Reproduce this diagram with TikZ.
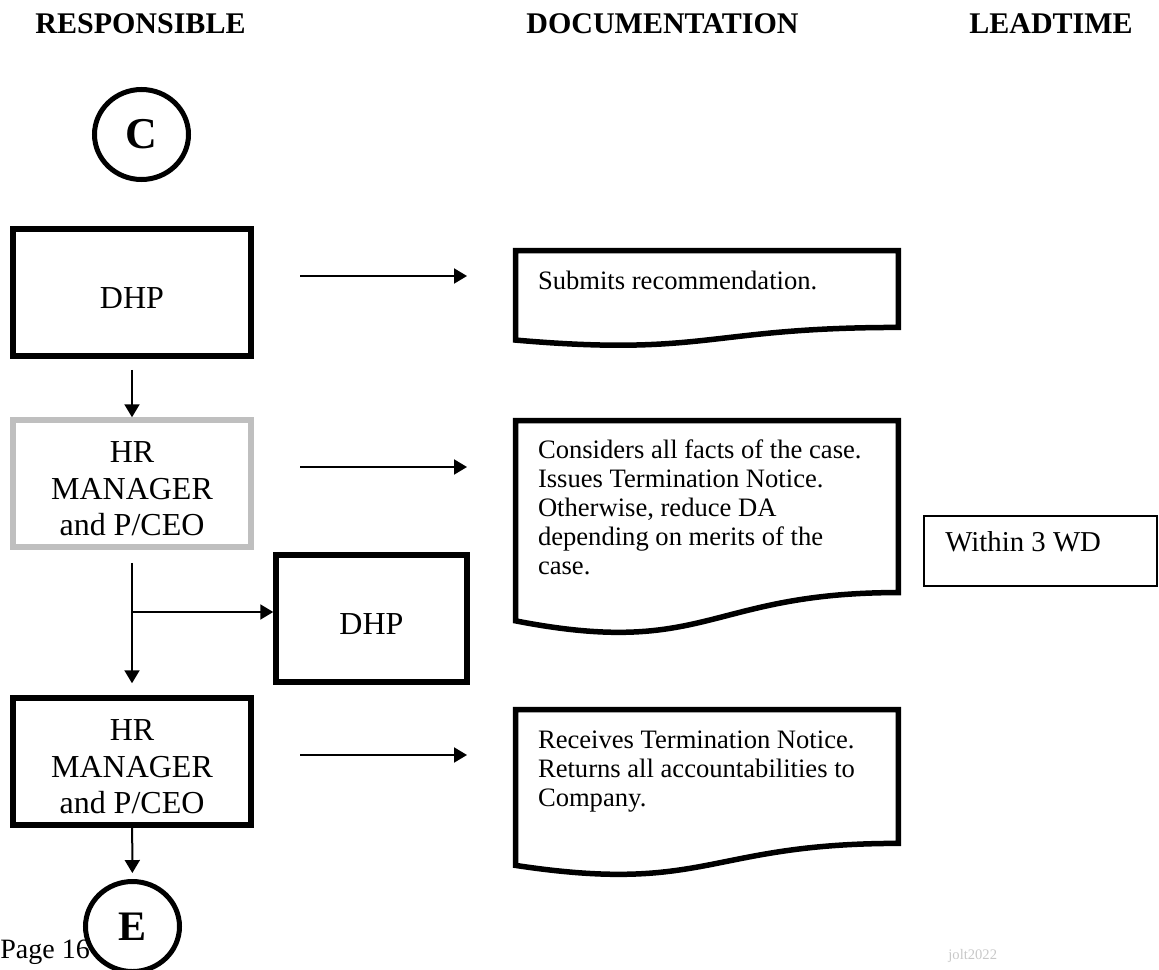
\documentclass[tikz,border=0pt]{standalone}
\usepackage{fontspec}
\setmainfont{Liberation Serif}
\usetikzlibrary{arrows.meta,shapes.geometric,calc}
\definecolor{framegray}{RGB}{191,191,191}
\definecolor{markgray}{RGB}{200,200,200}

% document symbol with the wavy bottom edge
\newcommand{\docshape}[1]{%
  \draw[docline] (#1.north west) -- (#1.north east)
    -- ($(#1.north east)!0.802!(#1.south east)$)
    .. controls ($(#1.north)!0.802!(#1.south)$) and ($(#1.north)!1.108!(#1.south)$)
    .. ($(#1.north west)!0.934!(#1.south west)$) -- cycle;}
% pushes the first line of a box text a little down
\newcommand{\lowr}{\rule{0pt}{16pt}}

\begin{document}
\begin{tikzpicture}[x=0.5pt,y=-0.5pt,
  head/.style={anchor=base, inner sep=0pt, font=\bfseries\fontsize{15}{18}\selectfont},
  terminal/.style={ellipse, draw, line width=2.5pt, minimum width=47pt, minimum height=45pt, inner sep=0pt, font=\bfseries\fontsize{22}{24}\selectfont},
  rolebox/.style={draw, line width=2.75pt, inner sep=0pt, align=center, minimum width=119pt, minimum height=63.5pt, font=\fontsize{16}{18.3}\selectfont},
  docbox/.style={inner sep=0pt, minimum width=191pt},
  docline/.style={line width=2.75pt},
  doctext/.style={anchor=north west, align=left, inner sep=0pt, font=\fontsize{13.3}{14.5}\selectfont},
  arr/.style={-{Triangle[length=6.5pt,width=7.5pt]}, line width=1pt}]
  \useasboundingbox (0,0) rectangle (1159,969);

  % column heads
  \node[head] (hresp) at (140.5,33) {RESPONSIBLE};
  \node[head] (hdoc) at (662.5,33) {DOCUMENTATION};
  \node[head] (hlead) at (1051,33) {LEADTIME};

  % responsible column
  \node[terminal] (conC) at (141.5,134.5) {C};
  \node[rolebox] (dhpA) at (132,292.5) {\lowr DHP};
  \node[rolebox, draw=framegray] (hrA) at (132,483.5) {\lowr HR\\MANAGER\\and P/CEO};
  \node[rolebox, minimum width=95.5pt] (dhpB) at (371.5,618.5) {\lowr DHP};
  \node[rolebox] (hrB) at (132,761.5) {\lowr HR\\MANAGER\\and P/CEO};
  \node[terminal, font=\bfseries\fontsize{21}{24}\selectfont] (conE) at (132.5,926.5) {E};

  % documentation column
  \node[docbox, minimum height=47.5pt] (docA) at (707,298.5) {};
  \node[docbox, minimum height=106.8pt] (docB) at (707,527.8) {};
  \node[docbox, minimum height=83pt] (docC) at (707,793) {};
  \docshape{docA}
  \docshape{docB}
  \docshape{docC}
  \node[doctext] (txtA) at ($(docA.north west)+(22,20)$) {Submits recommendation.};
  \node[doctext] (txtB) at ($(docB.north west)+(22,19)$) {Considers all facts of the case.\\Issues Termination Notice.\\Otherwise, reduce DA\\depending on merits of the\\case.};
  \node[doctext] (txtC) at ($(docC.north west)+(22,21)$) {Receives Termination Notice.\\Returns all accountabilities to\\Company.};

  % leadtime column
  \node[draw, line width=1pt, inner sep=0pt, minimum width=116.5pt, minimum height=35pt] (lead) at (1040.5,551) {};
  \node[anchor=west, inner sep=0pt, font=\fontsize{14.4}{16}\selectfont] (leadtxt) at (945,542) {Within 3 WD};

  % connectors
  \coordinate (fromA) at (300,276);
  \coordinate (toA) at (467,276);
  \coordinate (fromB) at (300,467);
  \coordinate (toB) at (467,467);
  \coordinate (fromC) at (300,755);
  \coordinate (toC) at (467,755);
  \draw[arr] (fromA) -- (toA);
  \draw[arr] (fromB) -- (toB);
  \draw[arr] (fromC) -- (toC);
  \draw[arr, shorten <=5.5pt] (dhpA) -- (hrA);
  \draw[arr, shorten <=6.5pt, shorten >=6pt] (hrA) -- (hrB);
  \coordinate (branch) at (132,612);
  \draw[arr] (branch) -- (branch -| dhpB.west);
  \draw[arr, shorten >=3pt] (hrB) -- (conE);

  % footer
  \node[anchor=base west, inner sep=0pt, font=\fontsize{14}{16}\selectfont] (page) at (0,958) {Page 16};
  \node[anchor=base west, inner sep=0pt, font=\fontsize{7.3}{8}\selectfont, text=markgray] (mark) at (948,959) {jolt2022};
\end{tikzpicture}
\end{document}
